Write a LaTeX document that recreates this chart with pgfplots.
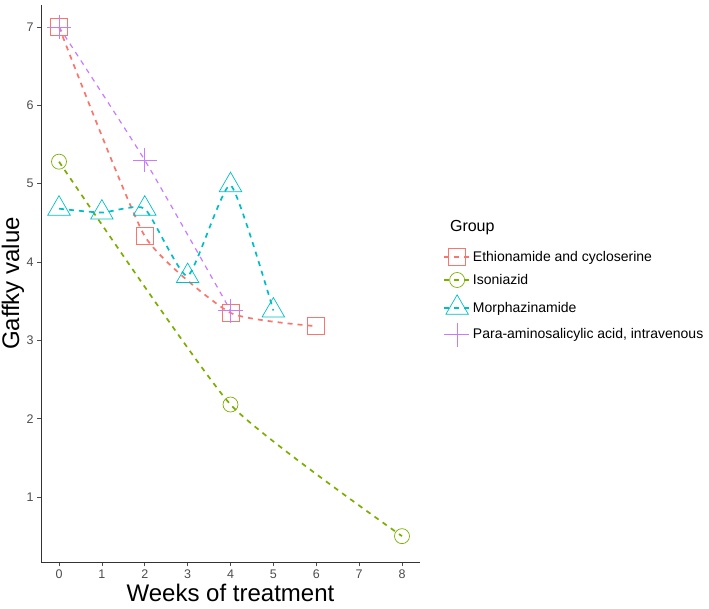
\documentclass[border=0pt]{standalone}
\usepackage{pgfplots}
\pgfplotsset{compat=1.18}
\usepackage{fontspec}
\setmainfont{Liberation Sans}
\definecolor{cE}{HTML}{F8766D}
\definecolor{cI}{HTML}{7CAE00}
\definecolor{cM}{HTML}{00BFC4}
\definecolor{cP}{HTML}{C77CFF}
\definecolor{tickgray}{HTML}{4D4D4D}
\begin{document}
\begin{tikzpicture}[x=1pt,y=1pt]
\useasboundingbox (0,0) rectangle (709,608);
\begin{axis}[
  at={(41pt,46pt)}, anchor=south west,
  scale only axis, width=379pt, height=557pt,
  xmin=-0.42, xmax=8.42, ymin=0.17, ymax=7.28,
  axis x line*=bottom, axis y line*=left,
  axis line style={-, line width=0.9pt, color=black!80},
  xtick={0,1,...,8}, ytick={1,2,...,7},
  tick align=outside, major tick length=4pt,
  tick style={color=black!70, line width=0.6pt},
  ticklabel style={font=\fontsize{12.5}{14}\selectfont, color=tickgray},
  /pgf/number format/assume math mode=true,
  xlabel={Weeks of treatment}, ylabel={Gaffky value},
  xlabel style={font=\fontsize{24}{28}\selectfont, at={(axis description cs:0.5,-0.056)}, anchor=center},
  ylabel style={font=\fontsize{24}{28}\selectfont, at={(axis description cs:-0.074,0.5)}, anchor=center},
  every axis plot/.append style={line width=1.7pt, dash pattern=on 5pt off 5pt, smooth, tension=0.3},
  legend cell align=left,
  legend style={draw=none, fill=none, at={(1.053,0.475)}, anchor=west,
    font=\fontsize{14}{16}\selectfont, row sep=7pt,
    /tikz/every even column/.append style={column sep=4pt}},
  legend image code/.code={
    \draw[#1] (0pt,0pt) -- (26pt,0pt);
    \draw[#1, solid, mark repeat=1] plot coordinates {(13pt,0pt)};
  },
  clip=false,
]
\addplot[color=cE, mark=square, mark size=8.5pt, mark options={solid, line width=0.7pt}]
  coordinates {(0,7.00) (2,4.33) (4,3.35) (6,3.18)};
\addlegendentry{Ethionamide and cycloserine}
\addplot[color=cI, mark=o, mark size=7.5pt, mark options={solid, line width=0.7pt}]
  coordinates {(0,5.28) (4,2.18) (8,0.50)};
\addlegendentry{Isoniazid}
\addplot[color=cM, mark=triangle, mark size=13pt, mark options={solid, line width=0.7pt}]
  coordinates {(0,4.68) (1,4.63) (2,4.68) (3,3.82) (4,4.98) (5,3.38)};
\addlegendentry{Morphazinamide}
\addplot[color=cP, line width=1.2pt, mark=+, mark size=12pt, mark options={solid, line width=0.7pt}]
  coordinates {(0,7.00) (2,5.30) (4,3.38)};
\addlegendentry{Para-aminosalicylic acid, intravenous}
\node[anchor=west, font=\fontsize{16}{18}\selectfont] at (rel axis cs:1.07,0.60) {Group};
\end{axis}
\end{tikzpicture}
\end{document}
